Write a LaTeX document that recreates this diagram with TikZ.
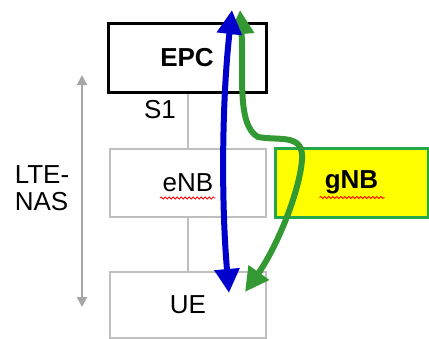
\documentclass[tikz,border=0pt]{standalone}
\usepackage{fontspec}
\setmainfont{Liberation Sans}
\usetikzlibrary{arrows.meta,calc,decorations.pathmorphing}
\definecolor{boxgray}{HTML}{BFBFBF}
\definecolor{arrowgray}{HTML}{A6A6A6}
\definecolor{nrgreen}{HTML}{339933}
\definecolor{gnbedge}{HTML}{22A84A}
\definecolor{gnbfill}{HTML}{FFFF00}
\definecolor{lteblue}{HTML}{0000CC}

\begin{document}
\begin{tikzpicture}[x=0.75pt,y=-0.75pt,
  every node/.style={font=\fontsize{19.5pt}{20pt}\selectfont},
  netbox/.style={draw=boxgray, line width=1.1pt, minimum width=117pt,
    minimum height=51pt, inner sep=0pt},
  epcbox/.style={draw=black, line width=2.25pt, minimum width=118.5pt,
    minimum height=51.75pt, inner sep=0pt, font=\fontsize{19.5pt}{20pt}\selectfont\bfseries},
  gnbbox/.style={draw=gnbedge, fill=gnbfill, line width=2.25pt, minimum width=114.75pt,
    minimum height=51.75pt, inner sep=0pt, font=\fontsize{19.5pt}{20pt}\selectfont\bfseries},
  link/.style={draw=boxgray, line width=1.1pt},
  squiggle/.style={draw=red, line width=0.6pt,
    decorate, decoration={snake, amplitude=0.8pt, segment length=3pt}},
  bigtip/.style={{Triangle[width=18pt,length=18pt]}-{Triangle[width=18pt,length=18pt]}}
]
\useasboundingbox (0,0) rectangle (429,339);

% =========================
% NETWORK BOXES
% =========================
\node[epcbox] (epc) at (187,57.5) {EPC};
\node[netbox] (enb) at (188,183) {eNB};
\node[gnbbox] (gnb) at (351.5,182.5) {gNB};
\node[netbox, minimum height=49.5pt] (ue) at (188,305) {UE};

% interfaces between the boxes
\draw[link] (enb.north) -- (enb.north |- epc.south);
\draw[link] (enb.south) -- (enb.south |- ue.north);
\node (s1) at (160,110) {S1};

% spell-check marks
\draw[squiggle] ($(enb.center)+(-28,15)$) -- ++(55,0);
\draw[squiggle] ($(gnb.center)+(-32,15)$) -- ++(65,0);

% =========================
% LTE-NAS SPAN
% =========================
\coordinate (nastop) at (82,75);
\coordinate (nasbot) at (82,307);
\draw[arrowgray, line width=1.5pt,
  {Triangle[width=7.5pt,length=7.5pt]}-{Triangle[width=7.5pt,length=7.5pt]}]
  (nastop) -- (nasbot);
\node[align=left] (nas) at (42,188) {LTE-\\NAS};

% =========================
% SIGNALLING PATHS
% =========================
% via gNB
\coordinate (greentop) at (240,10);
\coordinate (greenbot) at (245,292);
\draw[nrgreen, line width=4.5pt, bigtip]
  (greentop) .. controls (244,70) and (236,125) .. (258,137)
  .. controls (280,141) and (304,133) .. (302,160)
  .. controls (299,195) and (275,250) .. (greenbot);

% direct LTE
\coordinate (bluetop) at (232,10);
\coordinate (bluebot) at (229,293);
\draw[lteblue, line width=4.5pt, bigtip]
  (bluetop) .. controls (222,100) and (221,200) .. (bluebot);

\end{tikzpicture}
\end{document}
